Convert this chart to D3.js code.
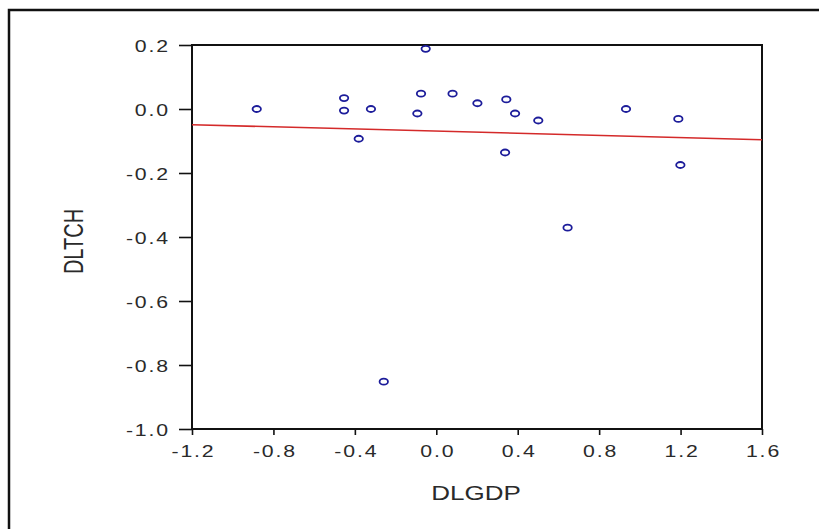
<!DOCTYPE html>
<html>
<head>
<meta charset="utf-8">
<script src="https://cdn.jsdelivr.net/npm/d3@7"></script>
<style>
  html, body { margin: 0; padding: 0; background: #fff; }
  svg { display: block; }
</style>
</head>
<body>
<svg id="chart" width="819" height="529"></svg>
<script>
// DLGDP (x) vs DLTCH (y) observations
const dlgdp = [-0.882, -0.453, -0.453, -0.321, -0.381, -0.052, -0.075, -0.093, 0.080, 0.202,
               0.344, 0.387, 0.501, 0.338, 0.932, 1.189, 1.199, 0.645, -0.258];
const dltch = [0.000, 0.034, -0.005, 0.000, -0.093, 0.188, 0.048, -0.014, 0.048, 0.018,
               0.030, -0.014, -0.036, -0.136, 0.000, -0.031, -0.175, -0.371, -0.852];

// fitted regression line, evaluated at the ends of the x range
const fitX = [-1.2, 1.6];
const fitY = [-0.049, -0.096];

const xTicks = [-1.2, -0.8, -0.4, 0.0, 0.4, 0.8, 1.2, 1.6];
const yTicks = [0.2, 0.0, -0.2, -0.4, -0.6, -0.8, -1.0];

(function () {
  const svg = d3.select("#chart");
  const font = "'Liberation Sans', Arial, sans-serif";
  const ink = "#2a2a2a";
  // one decimal, plain hyphen for negatives
  const fmt = d => d.toFixed(1);

  const m = { left: 192, right: 762, top: 45, bottom: 429 };

  const x = d3.scaleLinear().domain([-1.2, 1.6]).range([m.left, m.right]);
  const y = d3.scaleLinear().domain([-1.0, 0.2]).range([m.bottom, m.top]);

  // outer frame
  svg.append("path")
    .attr("d", "M9,529 L9,10 L819,10")
    .attr("fill", "none").attr("stroke", "#111").attr("stroke-width", 2.5);

  // plot box
  svg.append("rect")
    .attr("x", m.left).attr("y", m.top)
    .attr("width", m.right - m.left).attr("height", m.bottom - m.top)
    .attr("fill", "none").attr("stroke", "#111").attr("stroke-width", 2);

  // y axis
  const yAxis = d3.axisLeft(y).tickValues(yTicks).tickSize(13).tickPadding(9)
    .tickFormat(fmt);
  const gy = svg.append("g").attr("transform", `translate(${m.left},0)`).call(yAxis);
  gy.select(".domain").remove();
  gy.selectAll(".tick line").attr("stroke", "#111").attr("stroke-width", 1.6);
  gy.selectAll(".tick text")
    .attr("fill", ink).attr("font-family", font).attr("font-size", 17)
    .attr("letter-spacing", 1.5)
    .attr("dy", "0.36em")
    .attr("x", null)
    .attr("transform", "translate(-22,0) scale(1.25,1)");

  // x axis
  const xAxis = d3.axisBottom(x).tickValues(xTicks).tickSize(6).tickPadding(10)
    .tickFormat(fmt);
  const gx = svg.append("g").attr("transform", `translate(0,${m.bottom})`).call(xAxis);
  gx.select(".domain").remove();
  gx.selectAll(".tick line").attr("stroke", "#111").attr("stroke-width", 1.6);
  gx.selectAll(".tick text")
    .attr("fill", ink).attr("font-family", font).attr("font-size", 17)
    .attr("letter-spacing", 1.5)
    .attr("y", null).attr("dy", null)
    .attr("transform", "translate(1,28) scale(1.25,1)");

  // axis titles
  svg.append("text")
    .attr("transform", "translate(476,500) scale(1.3,1)")
    .attr("text-anchor", "middle")
    .attr("font-family", font).attr("font-size", 20).attr("fill", ink)
    .text("DLGDP");

  svg.append("text")
    .attr("transform", "translate(83,241.5) rotate(-90) scale(1,1.35)")
    .attr("text-anchor", "middle")
    .attr("font-family", font).attr("font-size", 20).attr("fill", ink)
    .text("DLTCH");

  // regression line
  const fit = fitX.map((v, i) => [v, fitY[i]]);
  svg.append("path")
    .datum(fit)
    .attr("d", d3.line().x(d => x(d[0])).y(d => y(d[1])))
    .attr("fill", "none").attr("stroke", "#d42a2a").attr("stroke-width", 1.6);

  // observations
  const pts = dlgdp.map((v, i) => [v, dltch[i]]);
  svg.append("g").selectAll("ellipse")
    .data(pts).join("ellipse")
    .attr("cx", d => x(d[0])).attr("cy", d => y(d[1]))
    .attr("rx", 4.2).attr("ry", 3)
    .attr("fill", "none").attr("stroke", "#1c1c9a").attr("stroke-width", 1.8);
})();
</script>
</body>
</html>
